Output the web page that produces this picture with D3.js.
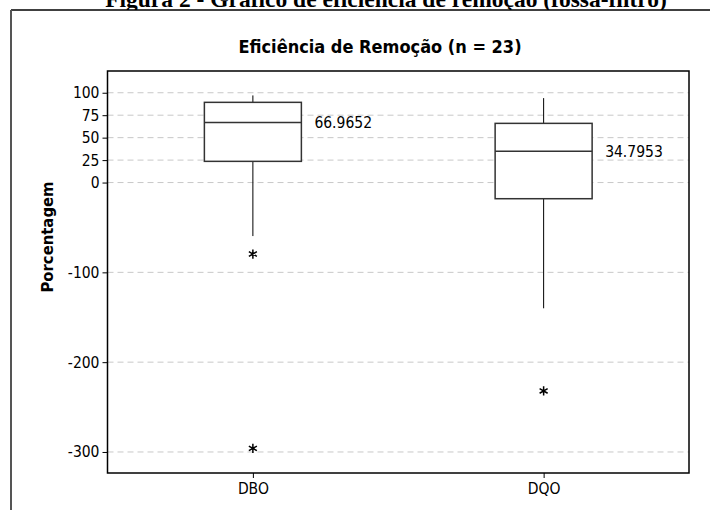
<!DOCTYPE html>
<html><head><meta charset="utf-8">
<script src="https://cdn.jsdelivr.net/npm/d3@7"></script>
<style>body{margin:0;background:#fff}svg{display:block}</style>
</head><body>
<script>
const categories = ["DBO", "DQO"];
const whiskerHigh = [97, 94];
const q3 = [89.3, 65.9];
const median = [66.9652, 34.7953];
const medianLabels = ["66.9652", "34.7953"];
const q1 = [23.6, -18];
const whiskerLow = [-59.6, -140];
const outliers = [[-79.6, -296], [-232]];
const yTicks = [100, 75, 50, 25, 0, -100, -200, -300];

const W = 710, H = 510;
const L = 107.5, R = 689, T = 71, B = 473;
const FONT = "'DejaVu Sans Condensed', 'DejaVu Sans', sans-serif";
const svg = d3.select("body").append("svg").attr("width", W).attr("height", H);

// caption (cut off at top, as in the reference)
svg.append("text").attr("x", 386).attr("y", 7).attr("text-anchor", "middle")
  .attr("font-family", "'Liberation Serif', serif").attr("font-weight", "bold").attr("font-size", 23.5)
  .text("Figura 2 - Gráfico de eficiência de remoção (fossa-filtro)");

// outer figure frame
svg.append("rect").attr("x", 11).attr("y", 10).attr("width", W).attr("height", H).attr("fill", "#fff");
svg.append("line").attr("x1", 11).attr("x2", W).attr("y1", 10).attr("y2", 10).attr("stroke", "#000").attr("stroke-width", 1.5);
svg.append("line").attr("x1", 11).attr("x2", 11).attr("y1", 10).attr("y2", H).attr("stroke", "#555").attr("stroke-width", 2);

const x = d3.scalePoint().domain(categories).range([L, R]).padding(0.5);
const y = d3.scaleLinear().domain([-323.4, 124.2]).range([B, T]);

// gridlines
svg.append("g").selectAll("line").data(yTicks).join("line")
  .attr("x1", L).attr("x2", R).attr("y1", d => y(d)).attr("y2", d => y(d))
  .attr("stroke", "#c8c8c8").attr("stroke-width", 1).attr("stroke-dasharray", "6,4");

// title
svg.append("text").attr("x", 380).attr("y", 53).attr("text-anchor", "middle")
  .attr("font-family", FONT).attr("font-weight", "bold").attr("font-size", 18)
  .text("Eficiência de Remoção (n = 23)");

// y label
svg.append("text").attr("transform", "translate(53,237) rotate(-90)").attr("text-anchor", "middle")
  .attr("font-family", FONT).attr("font-weight", "bold").attr("font-size", 16.5)
  .text("Porcentagem");

// axes
const yAxis = svg.append("g").attr("transform", `translate(${L},0)`)
  .call(d3.axisLeft(y).tickValues(yTicks).tickSize(5).tickPadding(3).tickFormat(d => String(d)));
yAxis.select(".domain").remove();
yAxis.selectAll("text").attr("font-family", FONT).attr("font-size", 15.5).attr("fill", "#000");
yAxis.selectAll("line").attr("stroke", "#000");

const xAxis = svg.append("g").attr("transform", `translate(0,${B})`)
  .call(d3.axisBottom(x).tickSize(5).tickPadding(5));
xAxis.select(".domain").remove();
xAxis.selectAll("text").attr("font-family", FONT).attr("font-size", 15.5).attr("fill", "#000");
xAxis.selectAll("line").attr("stroke", "#000");

// boxes
const bw = 97;
const g = svg.append("g");
categories.forEach((c, i) => {
  const cx = x(c);
  g.append("line").attr("x1", cx).attr("x2", cx).attr("y1", y(whiskerHigh[i])).attr("y2", y(q3[i])).attr("stroke", "#000");
  g.append("line").attr("x1", cx).attr("x2", cx).attr("y1", y(q1[i])).attr("y2", y(whiskerLow[i])).attr("stroke", "#000");
  g.append("rect").attr("x", cx - bw / 2).attr("y", y(q3[i])).attr("width", bw).attr("height", y(q1[i]) - y(q3[i]))
    .attr("fill", "#fff").attr("stroke", "#333").attr("stroke-width", 1.5);
  g.append("line").attr("x1", cx - bw / 2).attr("x2", cx + bw / 2).attr("y1", y(median[i])).attr("y2", y(median[i]))
    .attr("stroke", "#333").attr("stroke-width", 1.5);
  g.append("text").attr("x", cx + bw / 2 + 13).attr("y", y(median[i])).attr("dy", "0.35em")
    .attr("font-family", FONT).attr("font-size", 15.5).text(medianLabels[i]);
  outliers[i].forEach(o => {
    g.append("path").attr("d", d3.symbol(d3.symbolAsterisk, 60)()).attr("transform", `translate(${cx},${y(o)})`)
      .attr("fill", "none").attr("stroke", "#000").attr("stroke-width", 1.5);
  });
});

// plot frame
svg.append("rect").attr("x", L).attr("y", T).attr("width", R - L).attr("height", B - T)
  .attr("fill", "none").attr("stroke", "#000").attr("stroke-width", 1.5);
</script>
</body></html>
